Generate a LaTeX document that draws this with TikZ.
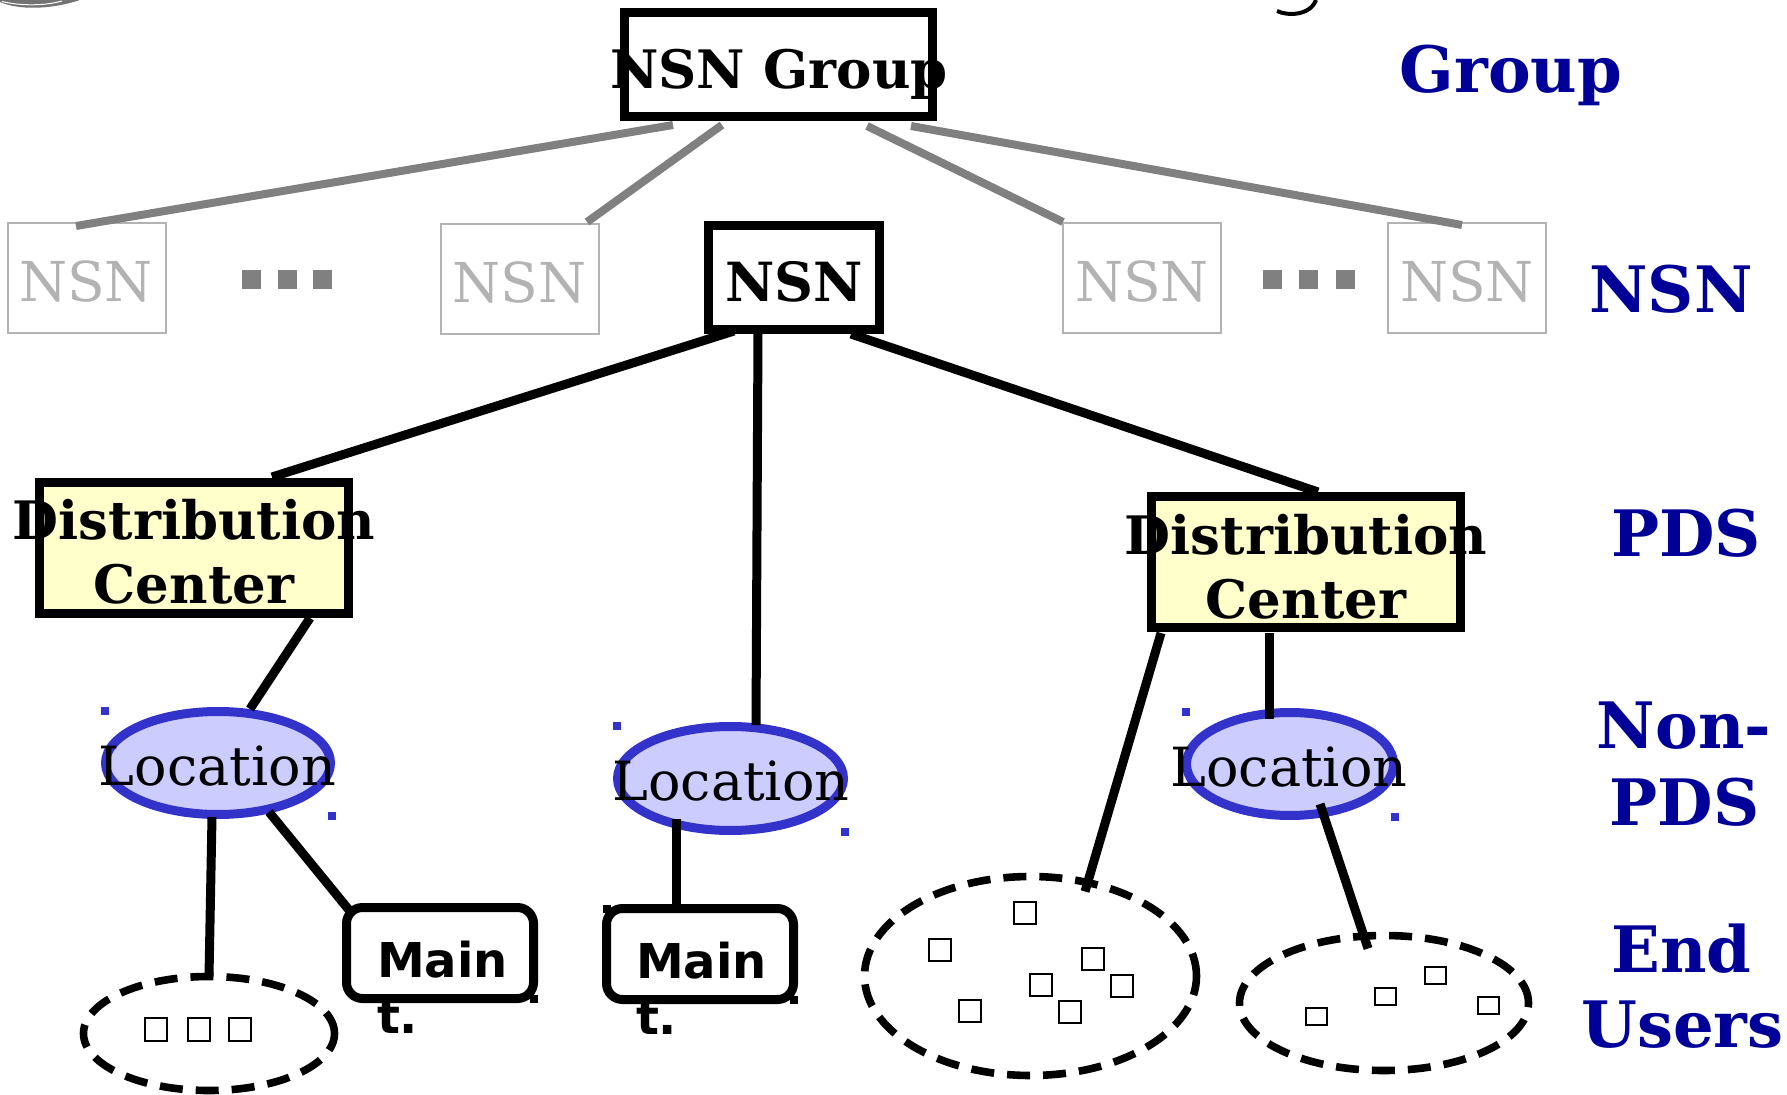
\documentclass[tikz,border=0pt]{standalone}
\usepackage{fontspec}
\setmainfont{DejaVu Serif}
\setsansfont{DejaVu Sans}
\usetikzlibrary{shapes.geometric,calc}
\definecolor{tierblue}{HTML}{000099}
\definecolor{peergray}{HTML}{B3B3B3}
\definecolor{linkgray}{HTML}{808080}
\definecolor{locedge}{HTML}{3333CC}
\definecolor{locfill}{HTML}{CCCCFF}
\definecolor{pdsfill}{HTML}{FFFFCC}
\begin{document}
\begin{tikzpicture}[x=0.5pt,y=-0.5pt,
  every node/.style={inner sep=0pt,outer sep=0pt},
  strongbox/.style={draw=black,line width=4.5pt},
  peerbox/.style={draw=peergray,line width=1pt,minimum width=79pt,minimum height=55pt},
  peertext/.style={text=peergray,font=\fontsize{27.5}{33}\selectfont,anchor=base},
  boxtext/.style={font=\bfseries\fontsize{26.5}{32}\selectfont,anchor=base},
  tier/.style={text=tierblue,font=\bfseries\fontsize{32}{38}\selectfont,anchor=base},
  ellipsis/.style={fill=linkgray,minimum width=9.5pt,minimum height=9.5pt},
  pdsbox/.style={strongbox,fill=pdsfill,minimum width=154.5pt,minimum height=65.5pt},
  locbox/.style={ellipse,draw=locedge,fill=locfill,line width=4.5pt},
  loctext/.style={font=\fontsize{27}{32}\selectfont,anchor=base},
  grip/.style={fill=locedge,minimum size=4pt},
  cornermark/.style={fill=black,minimum size=4pt},
  maintbox/.style={strongbox,rounded corners=8pt,minimum width=93.5pt,minimum height=45.5pt},
  mainttext/.style={font=\sffamily\bfseries\fontsize{24}{29}\selectfont,anchor=base west},
  crowd/.style={ellipse,draw=black,line width=3.8pt,dash pattern=on 11.5pt off 6.5pt},
  user/.style={draw=black,line width=1pt},
  trunk/.style={draw=linkgray,line width=4pt},
  linkline/.style={draw=black,line width=4.5pt},
]
\useasboundingbox (0,0) rectangle (1787,1095);

% fragments cut off at the upper edge
\fill[linkgray!90!black] (0,0) -- (0,2) .. controls (18,10) and (50,10) .. (80,0) -- cycle;
\draw[white,line width=0.5pt] (2,1.5) .. controls (20,6) and (45,6) .. (62,1);
\draw[line width=2pt] (1277,11) .. controls (1287,16) and (1310,16) .. (1316,0);

% group
\node[strongbox,minimum width=154pt,minimum height=52pt] (grp) at (778,65) {};
\node[boxtext] (grpt) at (779,89) {NSN Group};

% NSN row
\node[peerbox] (nsnA) at (86.5,278) {};
\node[peertext] (nsnAt) at (86,302) {NSN};
\node[peerbox] (nsnB) at (519.5,279) {};
\node[peertext] (nsnBt) at (519.5,303) {NSN};
\node[strongbox,minimum width=85.5pt,minimum height=52pt] (nsn) at (794,277.5) {};
\node[boxtext,font=\bfseries\fontsize{27}{32}\selectfont] (nsnt) at (794,302) {NSN};
\node[peerbox] (nsnD) at (1142,278) {};
\node[peertext] (nsnDt) at (1142,302) {NSN};
\node[peerbox] (nsnE) at (1467,278) {};
\node[peertext] (nsnEt) at (1467,302) {NSN};

\node[ellipsis] (dA1) at (251.5,280) {};
\node[ellipsis] (dA2) at (287,280) {};
\node[ellipsis] (dA3) at (322.5,280) {};
\node[ellipsis] (dB1) at (1272,280) {};
\node[ellipsis] (dB2) at (1308.5,280) {};
\node[ellipsis] (dB3) at (1345,280) {};

% distribution centers
\node[pdsbox] (pdsL) at (194,548) {};
\node[boxtext] (pdsLa) at (194,540) {Distribution};
\node[boxtext] (pdsLb) at (194,604) {Center};
\node[pdsbox] (pdsR) at (1306,562.5) {};
\node[boxtext] (pdsRa) at (1306,555) {Distribution};
\node[boxtext] (pdsRb) at (1306,619) {Center};

% locations
\node[locbox,minimum width=112.5pt,minimum height=51.5pt] (locL) at (218,763) {};
\node[loctext] (locLt) at (217.5,785) {Location};
\node[locbox,minimum width=113pt,minimum height=52pt] (locM) at (730.5,778.5) {};
\node[loctext] (locMt) at (731,800) {Location};
\node[locbox,minimum width=103.5pt,minimum height=51.5pt] (locR) at (1290,764) {};
\node[loctext] (locRt) at (1289,786) {Location};

\node[grip] (gL1) at ($(locL.north -| locL.west)+(-1,-1)$) {};
\node[grip] (gL2) at ($(locL.south -| locL.east)+(1,1)$) {};
\node[grip] (gM1) at ($(locM.north -| locM.west)+(-1,-1)$) {};
\node[grip] (gM2) at ($(locM.south -| locM.east)+(1,1)$) {};
\node[grip] (gR1) at ($(locR.north -| locR.west)+(-1,-1)$) {};
\node[grip] (gR2) at ($(locR.south -| locR.east)+(1,1)$) {};

% maintenance boxes
\node[maintbox] (mtL) at (440,953) {};
\node[mainttext] (mtLa) at (377,977) {Main};
\node[mainttext] (mtLb) at (377,1033) {t.};
\node[cornermark] (cL) at (mtL.south east) {};
\node[maintbox] (mtM) at (700,954) {};
\node[mainttext] (mtMa) at (636,978) {Main};
\node[mainttext] (mtMb) at (636,1034) {t.};
\node[cornermark] (cM1) at (mtM.north west) {};
\node[cornermark] (cM2) at (mtM.south east) {};

% end user groups
\node[crowd,minimum width=125.5pt,minimum height=57pt] (crL) at (209,1033.5) {};
\node[crowd,minimum width=166pt,minimum height=99.5pt] (crM) at (1030.5,976) {};
\node[crowd,minimum width=144.5pt,minimum height=67.5pt] (crR) at (1384,1003) {};

\node[user,minimum width=11pt,minimum height=11.5pt] (u1) at (156,1029.5) {};
\node[user,minimum width=11pt,minimum height=11.5pt] (u2) at (198.5,1029.5) {};
\node[user,minimum width=11pt,minimum height=11.5pt] (u3) at (240,1029.5) {};

\node[user,minimum width=11pt,minimum height=11pt] (v1) at (1025,912.5) {};
\node[user,minimum width=11pt,minimum height=11pt] (v2) at (940,950) {};
\node[user,minimum width=11pt,minimum height=11pt] (v3) at (1093,958.5) {};
\node[user,minimum width=11pt,minimum height=11pt] (v4) at (1041,985) {};
\node[user,minimum width=11pt,minimum height=11pt] (v5) at (1122,985.5) {};
\node[user,minimum width=11pt,minimum height=11pt] (v6) at (969.5,1011) {};
\node[user,minimum width=11pt,minimum height=11pt] (v7) at (1070,1011.5) {};

\node[user,minimum width=10.5pt,minimum height=8.5pt] (w1) at (1316,1016.5) {};
\node[user,minimum width=10.5pt,minimum height=8.5pt] (w2) at (1385.5,996) {};
\node[user,minimum width=10.5pt,minimum height=8.5pt] (w3) at (1435.5,975.5) {};
\node[user,minimum width=10.5pt,minimum height=8.5pt] (w4) at (1488,1005.5) {};

% group to NSN links
\draw[trunk] ($(grp.south west)+(49,8)$) -- ($(nsnA.north west)+(68.5,3)$);
\draw[trunk] ($(grp.south west)+(98,8)$) -- ($(nsnB.north east)+(-11.5,-2)$);
\draw[trunk] ($(grp.south east)+(-65,9)$) -- ($(nsnD.north west)+(0,-1)$);
\draw[trunk] ($(grp.south east)+(-21,9)$) -- ($(nsnE.north west)+(74,2)$);

% NSN hierarchy
\draw[linkline] ($(nsn.south west)+(25.5,1.5)$) -- ($(pdsL.north west)+(232.5,-5.5)$);
\draw[linkline] ($(nsn.south)+(-36,2.5)$) -- ($(locM.north)+(25.5,-1.5)$);
\draw[linkline] ($(nsn.south east)+(-28.5,4.5)$) -- ($(pdsR.north)+(12,-5)$);
\draw[linkline] ($(pdsL.south)+(116,4.5)$) -- ($(locL.north)+(32,-2.5)$);
\draw[linkline] ($(locL.south)+(-6,2.5)$) -- (crL.north);
\draw[linkline] ($(locL.south)+(51,-2.5)$) -- ($(mtL.north west)+(2.5,2.5)$);
\draw[linkline] ($(locM.south)+(-54.5,-11.5)$) -- ($(mtM.north)+(-24,0.5)$);
\draw[linkline] ($(pdsR.south)+(-37,5)$) -- ($(locR.north)+(-21,6.5)$);
\draw[linkline] ($(pdsR.south west)+(9.5,5)$) -- ($(crM.north)+(54.5,15)$);
\draw[linkline] ($(locR.south)+(30,-11.5)$) -- ($(crR.north)+(-16,13)$);

% tier labels
\node[tier] (tGroup) at (1511,93) {Group};
\node[tier] (tNSN) at (1671,313) {NSN};
\node[tier] (tPDS) at (1686,557) {PDS};
\node[tier] (tNon) at (1684,748) {Non-};
\node[tier] (tNonb) at (1684.5,825) {PDS};
\node[tier] (tEnd) at (1681.5,972) {End};
\node[tier] (tUsers) at (1682.5,1047) {Users};
\end{tikzpicture}
\end{document}
